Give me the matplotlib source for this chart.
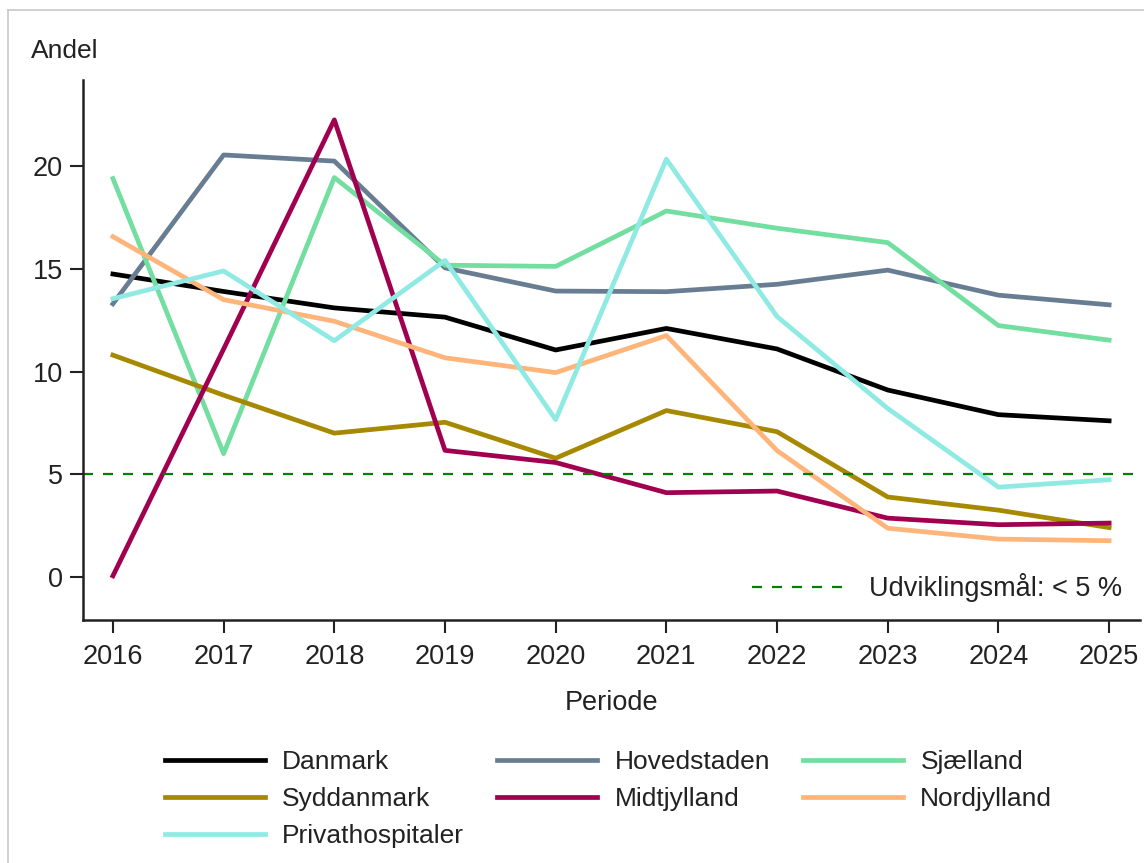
import numpy as np
import matplotlib
matplotlib.use('Agg')
from matplotlib import pyplot as plt
from matplotlib.lines import Line2D

plt.rcParams['font.family'] = ['Liberation Sans', 'DejaVu Sans']

# data
years = [2016, 2017, 2018, 2019, 2020, 2021, 2022, 2023, 2024, 2025]
danmark = [14.75, 13.9, 13.1, 12.65, 11.05, 12.1, 11.1, 9.1, 7.9, 7.6]
hovedstaden = [13.3, 20.55, 20.25, 15.05, 13.92, 13.89, 14.25, 14.94, 13.72, 13.25]
sjaelland = [19.4, 6.0, 19.45, 15.18, 15.12, 17.82, 16.98, 16.28, 12.24, 11.53]
syddanmark = [10.8, 8.85, 7.0, 7.53, 5.78, 8.1, 7.07, 3.89, 3.25, 2.4]
midtjylland = [0.05, 11.1, 22.26, 6.16, 5.57, 4.1, 4.18, 2.86, 2.54, 2.62]
nordjylland = [16.57, 13.5, 12.45, 10.67, 9.95, 11.75, 6.15, 2.37, 1.84, 1.76]
privat = [13.55, 14.9, 11.5, 15.41, 7.66, 20.34, 12.68, 8.2, 4.37, 4.73]
target = 5

series = [
    ('Danmark', danmark, '#000000'),
    ('Hovedstaden', hovedstaden, '#687d92'),
    ('Sjælland', sjaelland, '#72dea0'),
    ('Syddanmark', syddanmark, '#a68900'),
    ('Midtjylland', midtjylland, '#a0004f'),
    ('Nordjylland', nordjylland, '#ffb47a'),
    ('Privathospitaler', privat, '#8eeae2'),
]

fig = plt.figure(figsize=(11.44, 8.63), dpi=100)
ax = fig.add_axes([0.0726, 0.2816, 0.924, 0.6257])

handles = {}
for name, vals, col in series:
    h, = ax.plot(years, vals, color=col, lw=3.4, label=name)
    handles[name] = h

tl = ax.axhline(target, color='#008000', lw=1.6, ls=(0, (4.5, 4.5)))

ax.set_xlim(2015.73, 2025.28)
ax.set_ylim(-2.1, 24.2)
ax.set_xticks(years)
ax.set_yticks([0, 5, 10, 15, 20])
ax.tick_params(axis='both', direction='out', length=9.5, width=1.5, labelsize=19.5,
               colors='#222222', labelcolor='#222222')
ax.tick_params(axis='x', pad=8)
ax.tick_params(axis='y', pad=5)
for s in ['top', 'right']:
    ax.spines[s].set_visible(False)
for s in ['left', 'bottom']:
    ax.spines[s].set_linewidth(1.8)
    ax.spines[s].set_color('#222222')

ax.set_xlabel('Periode', fontsize=19.5, color='#222222', labelpad=14)
fig.text(31 / 1144, 1 - 51 / 863, 'Andel', fontsize=19, color='#222222', va='center', ha='left')

ax.legend([tl], ['Udviklingsmål: < 5 %'], loc='lower right', bbox_to_anchor=(1.0, 0.0),
          frameon=False, fontsize=19.5, handlelength=3.4, handletextpad=0.95,
          labelcolor='#222222', borderaxespad=0.25)

# matplotlib fills legend columns first, so order the entries to read row by row
order = ['Danmark', 'Syddanmark', 'Privathospitaler', 'Hovedstaden', 'Midtjylland',
         'Sjælland', 'Nordjylland']
fig.legend([handles[n] for n in order], order, ncol=3, loc='upper center',
           bbox_to_anchor=(0.5345 - 3 / 1144, 1 - 726 / 863), frameon=False, fontsize=19,
           handlelength=3.8, handletextpad=0.65, columnspacing=1.25,
           labelspacing=0.5, labelcolor='#222222')

# light frame around the image
fig.add_artist(Line2D([8 / 1144, 1], [1 - 10 / 863, 1 - 10 / 863], transform=fig.transFigure,
                      color='#c8c8c8', lw=1.2))
fig.add_artist(Line2D([8 / 1144, 8 / 1144], [0, 1 - 10 / 863], transform=fig.transFigure,
                      color='#c8c8c8', lw=1.2))

plt.savefig('out.png', dpi=100)
